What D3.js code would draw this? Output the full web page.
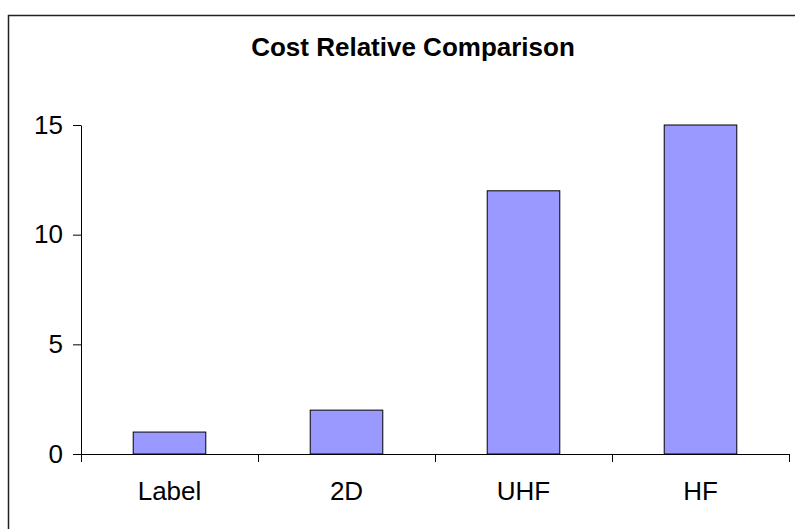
<!DOCTYPE html>
<html>
<head>
<meta charset="utf-8">
<script src="https://cdn.jsdelivr.net/npm/d3@7"></script>
<style>
  body { margin: 0; background: white; }
  svg { display: block; }
  text { font-family: Arial, "Liberation Sans", sans-serif; }
  .domain, .tick line { stroke: black; }
</style>
</head>
<body>
<div id="wykres"></div>
<script>
var kategorie = ["Label", "2D", "UHF", "HF"];
var wartosci = [1, 2, 12, 15];
var yTicks = [0, 5, 10, 15];
var tytul = "Cost Relative Comparison";

var width = 795, height = 529;
var margin = { top: 125, left: 81, right: 6, bottom: 75 };
var w = width - margin.left - margin.right;
var h = height - margin.top - margin.bottom;

var svg = d3.select("#wykres")
  .append("svg")
  .attr("width", width)
  .attr("height", height)
  .style("background", "white");

// ramka (wychodzi poza obraz z prawej i z dolu)
svg.append("rect")
  .attr("x", 8.5)
  .attr("y", 15.5)
  .attr("width", 810)
  .attr("height", 540)
  .attr("fill", "white")
  .attr("stroke", "#222")
  .attr("stroke-width", 1.5);

svg.append("text")
  .attr("x", 413)
  .attr("y", 56)
  .attr("text-anchor", "middle")
  .style("font-weight", "bold")
  .style("font-size", "26px")
  .text(tytul);

var g = svg.append("g")
  .attr("transform", "translate(" + margin.left + "," + margin.top + ")");

var xscale = d3.scaleBand()
  .domain(kategorie)
  .range([0, w])
  .padding(0);

var xtick = d3.scaleLinear()
  .domain([0, kategorie.length])
  .range([0, w]);

var yscale = d3.scaleLinear()
  .domain([0, 15])
  .range([h, 0]);

// ticki osi X na granicach kategorii
g.append("g")
  .attr("transform", "translate(0," + h + ")")
  .call(d3.axisBottom(xtick).tickValues(d3.range(kategorie.length + 1)).tickFormat("").tickSize(8).tickSizeOuter(0));

g.append("g")
  .attr("transform", "translate(0," + h + ")")
  .call(d3.axisBottom(xscale).tickSize(0).tickPadding(28))
  .call(s => s.select(".domain").remove())
  .selectAll("text")
  .style("font-size", "26px")
  .attr("fill", "black");

g.append("g")
  .call(d3.axisLeft(yscale).tickValues(yTicks).tickSize(8).tickSizeOuter(0).tickPadding(10))
  .selectAll("text")
  .style("font-size", "26px")
  .attr("fill", "black");

var barW = xscale.bandwidth() * 0.41;

g.selectAll(".slupek")
  .data(wartosci)
  .enter().append("rect")
  .attr("class", "slupek")
  .attr("x", (d, i) => xscale(kategorie[i]) + (xscale.bandwidth() - barW) / 2)
  .attr("y", d => yscale(d))
  .attr("width", barW)
  .attr("height", d => h - yscale(d))
  .attr("fill", "#9999FF")
  .attr("stroke", "black")
  .attr("stroke-width", 1);
</script>
</body>
</html>
